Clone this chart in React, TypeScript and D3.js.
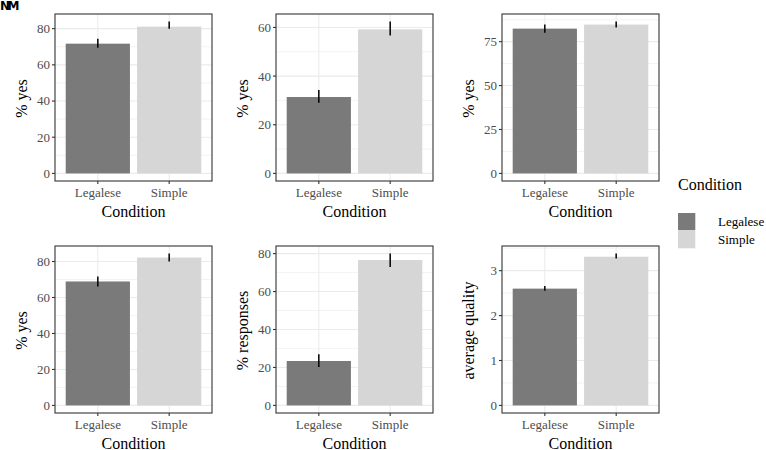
import React from "react";
import * as d3 from "d3";

// categories and legend
const conditions = ["Legalese", "Simple"];
const fills = ["#7A7A7A", "#D6D6D6"];

// one entry per facet, row by row
const yLabels = ["% yes", "% yes", "% yes", "% yes", "% responses", "average quality"];
const means = [
  [71.7, 81.1],
  [31.4, 59.2],
  [82.4, 84.7],
  [68.9, 82.2],
  [23.4, 76.6],
  [2.6, 3.31],
];
const lower = [
  [69.4, 80.0],
  [29.0, 56.7],
  [80.1, 83.0],
  [66.1, 80.0],
  [20.2, 73.0],
  [2.55, 3.27],
];
const upper = [
  [74.4, 83.9],
  [34.3, 62.4],
  [84.7, 86.4],
  [71.7, 84.4],
  [26.9, 80.0],
  [2.66, 3.38],
];
const yTicks = [
  [0, 20, 40, 60, 80],
  [0, 20, 40, 60],
  [0, 25, 50, 75],
  [0, 20, 40, 60, 80],
  [0, 20, 40, 60, 80],
  [0, 1, 2, 3],
];

// layout
const W = 766;
const H = 450;
const panelW = 157;
const panelH = 167;
const colX = [55, 276, 502];
const rowY = [14, 246];
const serif = { fontFamily: '"Liberation Serif", "DejaVu Serif", serif' };

function Facet({ i }: { i: number }) {
  const left = colX[i % 3];
  const top = rowY[Math.floor(i / 3)];
  const maxV = d3.max(upper[i])!;
  const pad = maxV * 0.05;

  const y = d3.scaleLinear().domain([-pad, maxV + pad]).range([panelH, 0]);
  const x = d3.scalePoint<string>().domain(conditions).range([0, panelW]).padding(0.6);
  const bw = x.step() * 0.9;

  const major = yTicks[i];
  const step = major[1] - major[0];
  const minor = major
    .map((t) => t + step / 2)
    .filter((t) => t < y.domain()[1]);

  return (
    <g transform={`translate(${left},${top})`}>
      <rect x={0} y={0} width={panelW} height={panelH} fill="white" />
      {minor.map((t) => (
        <line key={"mi" + t} x1={0} x2={panelW} y1={y(t)} y2={y(t)} stroke="#EBEBEB" strokeWidth={0.6} />
      ))}
      {major.map((t) => (
        <line key={"ma" + t} x1={0} x2={panelW} y1={y(t)} y2={y(t)} stroke="#EBEBEB" strokeWidth={1.1} />
      ))}
      {conditions.map((c) => (
        <line key={"vx" + c} x1={x(c)} x2={x(c)} y1={0} y2={panelH} stroke="#EBEBEB" strokeWidth={1.1} />
      ))}
      {conditions.map((c, j) => (
        <rect
          key={"b" + c}
          x={x(c)! - bw / 2}
          y={y(means[i][j])}
          width={bw}
          height={y(0) - y(means[i][j])}
          fill={fills[j]}
        />
      ))}
      {conditions.map((c, j) => (
        <line
          key={"e" + c}
          x1={x(c)}
          x2={x(c)}
          y1={y(upper[i][j])}
          y2={y(lower[i][j])}
          stroke="black"
          strokeWidth={1.5}
        />
      ))}
      <rect x={0} y={0} width={panelW} height={panelH} fill="none" stroke="#333333" strokeWidth={1.1} />

      {/* y axis */}
      {major.map((t) => (
        <g key={"yt" + t}>
          <line x1={-3} x2={0} y1={y(t)} y2={y(t)} stroke="#333333" strokeWidth={1.1} />
          <text
            x={-5}
            y={y(t)}
            dy="0.34em"
            textAnchor="end"
            fontSize={13}
            fill="#4D4D4D"
            style={serif}
          >
            {t}
          </text>
        </g>
      ))}
      <text
        transform={`translate(-33,${panelH / 2 + 1}) rotate(-90)`}
        textAnchor="middle"
        dy="0.3em"
        fontSize={16}
        fill="black"
        style={serif}
      >
        {yLabels[i]}
      </text>

      {/* x axis */}
      {conditions.map((c) => (
        <g key={"xt" + c}>
          <line x1={x(c)} x2={x(c)} y1={panelH} y2={panelH + 3} stroke="#333333" strokeWidth={1.1} />
          <text x={x(c)} y={panelH + 15.5} textAnchor="middle" fontSize={13} fill="#4D4D4D" style={serif}>
            {c}
          </text>
        </g>
      ))}
      <text x={panelW / 2} y={panelH + 35.5} textAnchor="middle" fontSize={16} fill="black" style={serif}>
        Condition
      </text>
    </g>
  );
}

export default function App() {
  return (
    <svg
      width={W}
      height={H}
      style={{ position: "absolute", left: 0, top: 0, background: "white" }}
    >
      <text
        x={0}
        y={10}
        fontSize={12}
        fontWeight="bold"
        letterSpacing={-2.5}
        style={{ fontFamily: '"DejaVu Sans", sans-serif' }}
      >
        NM
      </text>
      {yLabels.map((_, i) => (
        <Facet key={i} i={i} />
      ))}

      {/* legend */}
      <g transform="translate(678,0)">
        <text x={0} y={190} fontSize={16} fill="black" style={serif}>
          Condition
        </text>
        {conditions.map((c, j) => (
          <g key={"lg" + c} transform={`translate(0,${213 + j * 18})`}>
            <rect x={0} y={0} width={17.3} height={17.3} fill={fills[j]} />
            <text x={40} y={8.6} dy="0.34em" fontSize={13} fill="black" style={serif}>
              {c}
            </text>
          </g>
        ))}
      </g>
    </svg>
  );
}
